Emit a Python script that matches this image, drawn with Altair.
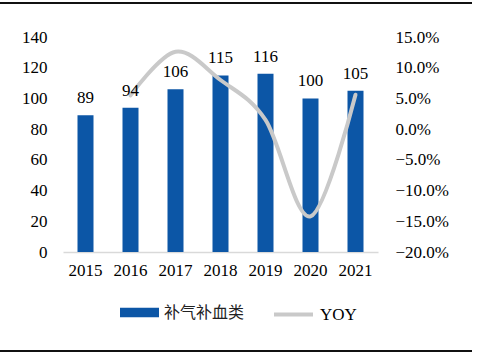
import altair as alt
import pandas as pd

years = ["2015", "2016", "2017", "2018", "2019", "2020", "2021"]
sales = [89, 94, 106, 115, 116, 100, 105]
yoy_years = ["2016", "2017", "2018", "2019", "2020", "2021"]
yoy = [0.055, 0.126, 0.080, 0.015, -0.142, 0.056]
left_ticks = [0, 20, 40, 60, 80, 100, 120, 140]
right_ticks = [-0.20, -0.15, -0.10, -0.05, 0.0, 0.05, 0.10, 0.15]

bar_df = pd.DataFrame({"year": years, "value": sales, "series": "补气补血类"})
line_df = pd.DataFrame({"year": yoy_years, "yoy": yoy, "series": "YOY"})

BLUE = "#0C56A6"
GRAY = "#C9C9C9"
SERIF = "Liberation Serif, Times New Roman, serif"
CJK = "Noto Sans CJK SC"

x_enc = alt.X(
    "year:N",
    sort=years,
    scale=alt.Scale(domain=years, paddingInner=0.64, paddingOuter=0.32),
    axis=alt.Axis(
        title=None, labelAngle=0, labelFont=SERIF, labelFontSize=17,
        labelColor="#000", labelPadding=10, domainColor="#D9D9D9",
        domainWidth=1.5, ticks=False,
    ),
)

bars = alt.Chart(bar_df).mark_bar(size=16).encode(
    x=x_enc,
    y=alt.Y(
        "value:Q",
        scale=alt.Scale(domain=[0, 140]),
        axis=alt.Axis(
            title=None, values=left_ticks, grid=False, domain=False, ticks=False,
            labelOverlap=False, labelFont=SERIF, labelFontSize=17,
            labelColor="#000", labelPadding=16,
        ),
    ),
    color=alt.Color(
        "series:N",
        scale=alt.Scale(domain=["补气补血类"], range=[BLUE]),
        legend=alt.Legend(
            title=None, orient="none", legendX=57, legendY=256,
            direction="horizontal",
            symbolType="M-1,-0.24H1V0.24H-1Z", symbolSize=1521,
            symbolStrokeWidth=0, symbolOpacity=1,
            labelFont=CJK, labelFontSize=16, labelColor="#222", labelOffset=5,
        ),
    ),
)

line = alt.Chart(line_df).mark_line(
    interpolate="cardinal", strokeWidth=4, strokeCap="round"
).encode(
    x=alt.X("year:N", sort=years),
    y=alt.Y(
        "yoy:Q",
        scale=alt.Scale(domain=[-0.2, 0.15]),
        axis=alt.Axis(
            orient="right", title=None, format=".1%", values=right_ticks,
            grid=False, domain=False, ticks=False, labelOverlap=False,
            labelFont=SERIF, labelFontSize=17, labelColor="#000",
            labelPadding=17,
        ),
    ),
    stroke=alt.Stroke(
        "series:N",
        scale=alt.Scale(domain=["YOY"], range=[GRAY]),
        legend=alt.Legend(
            title=None, orient="none", legendX=209, legendY=256,
            direction="horizontal", symbolType="stroke", symbolSize=1521,
            symbolStrokeWidth=4,
            labelFont=SERIF, labelFontSize=17, labelColor="#000", labelOffset=5,
        ),
    ),
)

labels = alt.Chart(bar_df).mark_text(
    dy=-12, baseline="alphabetic", font=SERIF, fontSize=17, color="#000"
).encode(
    x=alt.X("year:N", sort=years),
    y=alt.Y("value:Q", scale=alt.Scale(domain=[0, 140]), axis=None),
    text="value:Q",
)

frame_top = alt.Chart(bar_df).mark_rule(color="#111", strokeWidth=2).encode(
    x=alt.value(-63), x2=alt.value(409), y=alt.value(-34)
)
frame_bottom = alt.Chart(bar_df).mark_rule(color="#111", strokeWidth=2).encode(
    x=alt.value(-63), x2=alt.value(409), y=alt.value(314)
)

chart = (
    alt.layer(bars, line, labels, frame_top, frame_bottom)
    .resolve_scale(y="independent")
    .properties(
        width=315,
        height=215,
        padding={"left": 63, "top": 37, "right": 101, "bottom": 102},
        autosize=alt.AutoSizeParams(type="none"),
        background="white",
    )
    .configure_view(stroke=None)
)

chart.save("out.html", embed_options={"renderer": "svg", "actions": False})
